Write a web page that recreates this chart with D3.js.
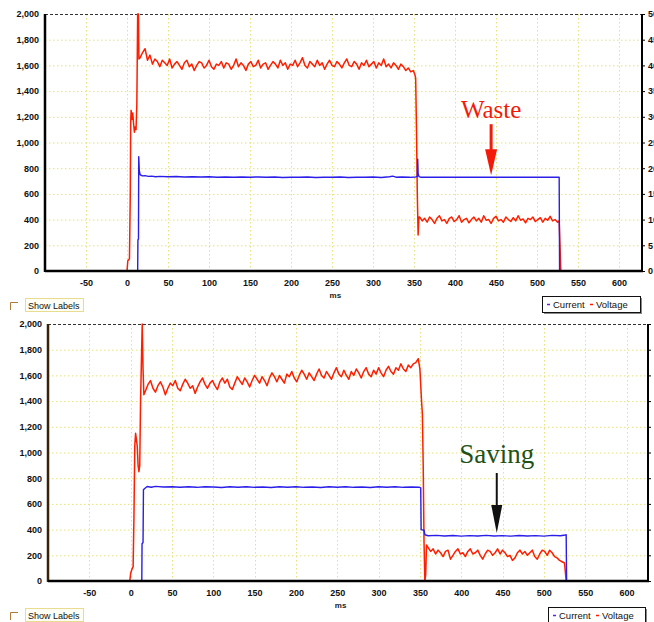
<!DOCTYPE html>
<html>
<head>
<meta charset="utf-8">
<script src="https://cdn.jsdelivr.net/npm/d3@7"></script>
<style>
body { margin: 0; background: #fff; }
svg { display: block; font-family: "Liberation Sans", Arial, sans-serif; }
.tick text { font-size: 9px; font-weight: bold; fill: #111; }
.grid line { stroke: #e6e280; stroke-width: 1; stroke-dasharray: 1.5,2.5; }
</style>
</head>
<body>
<div id="chart"></div>
<script>
// axis ticks
var xTicks = [-50, 0, 50, 100, 150, 200, 250, 300, 350, 400, 450, 500, 550, 600];
var leftTicks = [0, 200, 400, 600, 800, 1000, 1200, 1400, 1600, 1800, 2000];
var rightTicks = [0, 5, 10, 15, 20, 25, 30, 35, 40, 45, 50];
var seriesNames = ["Current", "Voltage"];
var notes = ["Waste", "Saving"];

// top panel: [ms, value]
var topVoltage = [[-100,0],[0,0],[1,80],[3,95],[4,600],[4.5,1150],[5,1250],[6,1180],[7,1230],[8,1150],[9,1080],[10,1120],[11,1100],[12,1300],[13,2000],[14,2000],[14.5,1650],
  [16,1660],[19,1700],[22,1730],[25,1640],[28,1680],[31,1610],[34,1650],[37,1630],[40,1590],[43,1640],[46,1620],[49,1600],[52,1650],[55,1580],[58,1610],[61,1630],[64,1600],[67,1570],[70,1620],[73,1640],[76,1590],[79,1610],[82,1560],[85,1600],[88,1630],[91,1620],[94,1580],[97,1600],
  [100,1640],[103,1590],[106,1570],[109,1610],[112,1600],[115,1630],[118,1580],[121,1620],[124,1610],[127,1570],[130,1600],[133,1650],[136,1590],[139,1620],[142,1600],[145,1560],[148,1610],[151,1630],[154,1590],[157,1600],[160,1640],[163,1580],[166,1610],[169,1620],[172,1570],[175,1600],[178,1630],[181,1610],[184,1580],[187,1640],[190,1600],[193,1620],[196,1570],[199,1610],
  [202,1600],[205,1640],[208,1590],[211,1620],[214,1660],[217,1600],[220,1580],[223,1630],[226,1610],[229,1590],[232,1640],[235,1600],[238,1620],[241,1570],[244,1610],[247,1640],[250,1600],[253,1590],[256,1630],[259,1610],[262,1580],[265,1620],[268,1650],[271,1600],[274,1590],[277,1630],[280,1610],[283,1570],[286,1620],[289,1600],[292,1640],[295,1590],[298,1610],
  [301,1630],[304,1580],[307,1620],[310,1600],[313,1650],[316,1590],[319,1610],[322,1580],[325,1620],[328,1600],[331,1570],[334,1610],[337,1590],[340,1560],[343,1580],[346,1550],[349,1560],[351,1530],[352,1500],[353,1100],[354,600],[355,280],[356,420],
  [357,420],[360,390],[363,410],[366,380],[369,420],[372,400],[375,370],[378,410],[381,430],[384,390],[387,400],[390,370],[393,410],[396,420],[399,385],[402,400],[405,430],[408,380],[411,400],[414,410],[417,375],[420,400],[423,420],[426,390],[429,410],[432,380],[435,430],[438,395],[441,400],[444,370],[447,410],
  [450,425],[453,390],[456,400],[459,380],[462,420],[465,400],[468,385],[471,415],[474,390],[477,430],[480,395],[483,405],[486,375],[489,410],[492,400],[495,420],[498,385],[501,400],[504,415],[507,380],[510,410],[513,395],[516,425],[519,390],[522,400],[525,380],[527,390],[528,200],[529,0],[628,0]];

var topCurrent = [[-100,0],[13,0],[13.3,240],[14,250],[14.3,890],[15,780],[16,750],[17,745],[19,740],[22,742],[26,736],[30,738],[35,734],[40,736],[50,733],[60,735],[70,732],[80,734],[90,731],[100,733],
  [110,730],[120,732],[130,729],[140,731],[150,730],[160,732],[170,729],[180,731],[190,728],[200,730],[210,729],[220,731],[230,728],[240,730],[250,729],[260,731],[270,728],[280,730],[290,729],[300,731],
  [310,728],[320,733],[324,738],[328,730],[335,731],[345,729],[352,732],[354,735],[354.5,870],[355,760],[356,735],[358,730],[370,729],[400,730],[430,729],[460,730],[490,729],[520,730],[527,730],[527.5,0],[628,0]];

// bottom panel: [ms, value]
var bottomVoltage = [[-100,0],[-1,0],[0,60],[2,100],[3,110],[4,500],[5,1050],[6,1150],[7,1100],[8,1050],[9,900],[10,850],[11,900],[12,1400],[13,1700],[14,2000],[15,1650],[16,1450],
  [18,1480],[21,1530],[24,1560],[27,1500],[30,1470],[33,1520],[36,1550],[39,1510],[42,1450],[45,1500],[48,1540],[51,1520],[54,1560],[57,1500],[60,1480],[63,1530],[66,1570],[69,1540],[72,1500],[75,1520],[78,1460],[81,1510],[84,1550],[87,1580],[90,1530],[93,1500],[96,1540],[99,1560],
  [102,1520],[105,1490],[108,1550],[111,1580],[114,1540],[117,1570],[120,1510],[123,1490],[126,1540],[129,1590],[132,1560],[135,1530],[138,1580],[141,1550],[144,1510],[147,1560],[150,1600],[153,1570],[156,1540],[159,1590],[162,1560],[165,1520],[168,1580],[171,1620],[174,1590],[177,1550],[180,1600],[183,1570],[186,1540],[189,1610],[192,1590],[195,1630],[198,1580],
  [201,1550],[204,1600],[207,1640],[210,1610],[213,1570],[216,1620],[219,1590],[222,1560],[225,1610],[228,1650],[231,1600],[234,1580],[237,1630],[240,1600],[243,1570],[246,1620],[249,1660],[252,1610],[255,1590],[258,1640],[261,1600],[264,1570],[267,1630],[270,1600],[273,1650],[276,1620],[279,1580],[282,1630],[285,1660],[288,1610],[291,1590],[294,1640],[297,1610],
  [300,1660],[303,1620],[306,1590],[309,1640],[312,1670],[315,1630],[318,1610],[321,1660],[324,1640],[327,1690],[330,1650],[333,1630],[336,1680],[339,1660],[342,1690],[345,1700],[348,1730],[350,1650],[352,1400],[353,1300],[354,900],[355,300],[356,0],[357,50],[358,280],
  [360,260],[363,230],[366,250],[369,210],[372,240],[375,220],[378,190],[381,230],[384,240],[387,170],[390,200],[393,230],[396,250],[399,210],[402,220],[405,190],[408,230],[411,250],[414,210],[417,220],[420,240],[423,200],[426,170],[429,210],[432,240],[435,230],[438,200],[441,220],[444,250],[447,210],
  [450,240],[453,220],[456,190],[459,200],[462,160],[465,180],[468,220],[471,240],[474,210],[477,230],[480,200],[483,220],[486,240],[489,190],[492,170],[495,210],[498,240],[501,230],[504,200],[507,240],[510,220],[513,190],[516,180],[519,160],[522,150],[525,140],[527,0],[626,0]];

var bottomCurrent = [[-100,0],[13.5,0],[13.8,290],[15,300],[15.5,710],[17,720],[20,735],[25,730],[30,736],[40,731],[50,734],[60,730],[70,733],[80,729],[90,734],[100,731],[110,728],[120,733],[130,730],[140,734],[150,729],
  [160,732],[170,728],[180,733],[190,730],[200,734],[210,729],[220,732],[230,728],[240,733],[250,730],[260,734],[270,729],[280,732],[290,728],[300,733],[310,730],[320,734],[330,729],[340,732],[349,730],[351,725],
  [351.5,400],[355,395],[356,360],[360,352],[370,355],[380,350],[390,354],[400,349],[410,353],[420,350],[430,355],[440,350],[450,353],[460,349],[470,354],[480,350],[490,353],[500,349],[510,355],[520,352],[526,358],[527,360],[527.5,0],[626,0]];

var panels = [
  { volt: topVoltage, curr: topCurrent, top: 14, bottom: 271, left: 45, right: 642, domain: [-100, 628],
    leftAxisColor: "#000", note: 0, noteColor: "#f41a0a", arrowColor: "#f41a0a", noteSize: 25,
    noteT: 444, tipVal: 730, tipGap: 2, textGap: 57, shaftGap: 6, headH: 26, headW: 12, shaftW: 3,
    legend: [542, 296, 98, 16], boxY: 302 },
  { volt: bottomVoltage, curr: bottomCurrent, top: 324, bottom: 581, left: 48, right: 648, domain: [-100, 626],
    leftAxisColor: "#3a2208", note: 1, noteColor: "#1f5218", arrowColor: "#111", noteSize: 27,
    noteT: 443, tipVal: 350, tipGap: 3, textGap: 70, shaftGap: 10, headH: 28, headW: 11, shaftW: 2,
    legend: [548, 607, 97, 16], boxY: 612 }
];

var width = 654, height = 622;
var svg = d3.select("#chart").append("svg").attr("width", width).attr("height", height);

function drawPanel(p) {
  var x = d3.scaleLinear().domain(p.domain).range([p.left, p.right]);
  var y = d3.scaleLinear().domain([0, 2000]).range([p.bottom, p.top]);
  var yR = d3.scaleLinear().domain([0, 50]).range([p.bottom, p.top]);
  var g = svg.append("g");

  // grid
  var grid = g.append("g").attr("class", "grid");
  grid.selectAll(".h").data(leftTicks.filter(function (d) { return d > 0 && d < 2000; }))
    .enter().append("line")
    .attr("x1", p.left).attr("x2", p.right)
    .attr("y1", function (d) { return y(d) + 0.5; }).attr("y2", function (d) { return y(d) + 0.5; });
  grid.selectAll(".v").data(xTicks)
    .enter().append("line")
    .attr("y1", p.top).attr("y2", p.bottom)
    .attr("x1", function (d) { return Math.round(x(d)) + 0.5; }).attr("x2", function (d) { return Math.round(x(d)) + 0.5; });

  // top border dashed
  g.append("line").attr("x1", p.left).attr("x2", p.right).attr("y1", p.top + 0.5).attr("y2", p.top + 0.5)
    .attr("stroke", "#333").attr("stroke-dasharray", "3,2");

  // lines
  var line = d3.line().x(function (d) { return x(d[0]); }).y(function (d) { return y(d[1]); });
  g.append("path").datum(p.volt).attr("d", line).attr("fill", "none")
    .attr("stroke", "#ff1e00").attr("stroke-width", 1.5).attr("stroke-linejoin", "round");
  g.append("path").datum(p.curr).attr("d", line).attr("fill", "none")
    .attr("stroke", "#2a1ee8").attr("stroke-width", 1.4).attr("stroke-linejoin", "round");

  // axes frame
  g.append("line").attr("x1", p.left).attr("x2", p.left).attr("y1", p.top).attr("y2", p.bottom + 1)
    .attr("stroke", p.leftAxisColor).attr("stroke-width", 2.5);
  g.append("line").attr("x1", p.left).attr("x2", p.right + 1).attr("y1", p.bottom).attr("y2", p.bottom)
    .attr("stroke", "#000").attr("stroke-width", 2.5);
  g.append("line").attr("x1", p.right).attr("x2", p.right).attr("y1", p.top).attr("y2", p.bottom)
    .attr("stroke", "#000").attr("stroke-width", 2);

  var xAxis = d3.axisBottom(x).tickValues(xTicks).tickSize(0).tickPadding(9)
    .tickFormat(function (d) { return String(d); });
  g.append("g").attr("transform", "translate(0," + p.bottom + ")").call(xAxis)
    .call(function (a) { a.select(".domain").remove(); });

  var yAxis = d3.axisLeft(y).tickValues(leftTicks).tickSize(0).tickPadding(6).tickFormat(d3.format(","));
  g.append("g").attr("transform", "translate(" + p.left + ",0)").call(yAxis)
    .call(function (a) { a.select(".domain").remove(); });

  var rAxis = d3.axisRight(yR).tickValues(rightTicks).tickSize(2).tickPadding(3);
  g.append("g").attr("transform", "translate(" + (p.right + 1) + ",0)").call(rAxis)
    .call(function (a) { a.select(".domain").remove(); a.selectAll(".tick line").attr("stroke", "#000"); });

  // axis title
  g.append("text").attr("x", x(254)).attr("y", p.bottom + 27).attr("text-anchor", "middle")
    .attr("font-size", 8).attr("font-weight", "bold").attr("fill", "#222").text("ms");

  // annotation
  var ax = x(p.noteT), tip = y(p.tipVal) - p.tipGap, base = tip - p.textGap;
  g.append("text").attr("x", ax).attr("y", base).attr("text-anchor", "middle")
    .attr("font-family", "'Liberation Serif', 'Times New Roman', serif").attr("font-size", p.noteSize)
    .attr("fill", p.noteColor).text(notes[p.note]);
  g.append("line").attr("x1", ax).attr("x2", ax).attr("y1", base + p.shaftGap).attr("y2", tip - p.headH + 1)
    .attr("stroke", p.arrowColor).attr("stroke-width", p.shaftW);
  g.append("path")
    .attr("d", "M" + (ax - p.headW / 2) + "," + (tip - p.headH) + "L" + (ax + p.headW / 2) + "," + (tip - p.headH) + "L" + ax + "," + tip + "Z")
    .attr("fill", p.arrowColor);

  // legend
  var L = p.legend;
  var lg = g.append("g").attr("transform", "translate(" + L[0] + "," + L[1] + ")");
  lg.append("rect").attr("x", 2).attr("y", 2).attr("width", L[2]).attr("height", L[3]).attr("fill", "#888");
  lg.append("rect").attr("x", 0.5).attr("y", 0.5).attr("width", L[2]).attr("height", L[3])
    .attr("fill", "#fff").attr("stroke", "#111");
  var colors = ["#6a1ee8", "#ff1e00"];
  var offs = [5, 48];
  seriesNames.forEach(function (n, i) {
    lg.append("line").attr("x1", offs[i]).attr("x2", offs[i] + 3).attr("y1", L[3] / 2 + 0.5).attr("y2", L[3] / 2 + 0.5)
      .attr("stroke", colors[i]).attr("stroke-width", 1.5);
    lg.append("text").attr("x", offs[i] + 6).attr("y", L[3] / 2 + 3.5).attr("font-size", 9.5).attr("fill", "#111").text(n);
  });

  // show labels checkbox
  var cb = g.append("g").attr("transform", "translate(10," + p.boxY + ")");
  cb.append("path").attr("d", "M0.5,8V0.5H8").attr("fill", "none").attr("stroke", "#b07a3a").attr("stroke-width", 1);
  cb.append("rect").attr("x", 15.5).attr("y", -3.5).attr("width", 58).attr("height", 13)
    .attr("fill", "#fffef4").attr("stroke", "#e8dc90").attr("stroke-width", 1);
  cb.append("text").attr("x", 18).attr("y", 6.5).attr("font-size", 9).attr("fill", "#111").text("Show Labels");
}

panels.forEach(drawPanel);
</script>
</body>
</html>
